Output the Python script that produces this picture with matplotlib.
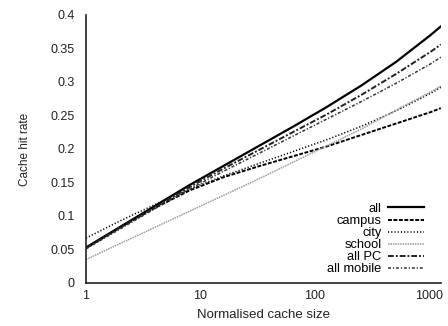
import matplotlib
matplotlib.use("Agg")
import matplotlib.pyplot as plt
from matplotlib.ticker import FixedLocator, FixedFormatter, NullLocator

plt.rcParams['font.family'] = ['Liberation Sans', 'DejaVu Sans']

cache_size = [1, 2, 4, 8, 16, 32, 64, 128, 256, 512, 1024, 1260]
all_vals   = [0.053, 0.084, 0.115, 0.146, 0.175, 0.204, 0.233, 0.263, 0.295, 0.330, 0.370, 0.383]
campus     = [0.052, 0.083, 0.112, 0.138, 0.158, 0.174, 0.189, 0.204, 0.221, 0.238, 0.255, 0.261]
city       = [0.067, 0.093, 0.117, 0.140, 0.160, 0.178, 0.196, 0.214, 0.234, 0.257, 0.283, 0.292]
school     = [0.035, 0.059, 0.083, 0.107, 0.131, 0.155, 0.180, 0.205, 0.230, 0.258, 0.285, 0.294]
all_pc     = [0.052, 0.083, 0.113, 0.143, 0.171, 0.198, 0.225, 0.252, 0.281, 0.312, 0.345, 0.356]
all_mobile = [0.051, 0.081, 0.111, 0.140, 0.167, 0.193, 0.219, 0.245, 0.271, 0.298, 0.327, 0.337]

x_ticks = [1, 10, 100, 1000]
x_tick_labels = ["1", "10", "100", "1000"]
y_ticks = [0, 0.05, 0.1, 0.15, 0.2, 0.25, 0.3, 0.35, 0.4]
y_tick_labels = ["0", "0.05", "0.1", "0.15", "0.2", "0.25", "0.3", "0.35", "0.4"]

fig = plt.figure(figsize=(4.48, 3.26), dpi=100)
ax = fig.add_axes([0.192, 0.132, 0.792, 0.822])

ax.plot(cache_size, all_vals, color='black', lw=1.6, ls='-', label='all')
ax.plot(cache_size, campus, color='black', lw=1.4, ls=(0, (2.0, 0.8)), label='campus')
ax.plot(cache_size, city, color='black', lw=1.1, ls=(0, (0.8, 1.3)), label='city')
ax.plot(cache_size, school, color='#9a9a9a', lw=1.1, ls=(0, (1.0, 0.6)), label='school')
ax.plot(cache_size, all_pc, color='#222222', lw=1.4, ls=(0, (3.0, 1.0, 1.0, 1.0)), label='all PC')
ax.plot(cache_size, all_mobile, color='#333333', lw=1.1, ls=(0, (2.0, 1.2, 0.8, 1.2)), label='all mobile')

ax.set_xscale('log')
ax.set_xlim(1, 1260)
ax.set_ylim(0, 0.4)
ax.xaxis.set_major_locator(FixedLocator(x_ticks))
ax.xaxis.set_major_formatter(FixedFormatter(x_tick_labels))
ax.xaxis.set_minor_locator(NullLocator())
ax.yaxis.set_major_locator(FixedLocator(y_ticks))
ax.yaxis.set_major_formatter(FixedFormatter(y_tick_labels))
ax.tick_params(axis='both', length=0, labelsize=9, colors='#222222')
ax.tick_params(axis='y', pad=8)
ax.tick_params(axis='x', pad=5)

for s in ['top', 'right']:
    ax.spines[s].set_visible(False)
for s in ['left', 'bottom']:
    ax.spines[s].set_linewidth(1.2)
    ax.spines[s].set_color('#222222')

ax.set_xlabel('Normalised cache size', fontsize=9.5, labelpad=5, color='#222222')
ax.set_ylabel('Cache hit rate', fontsize=8.5, labelpad=14, color='#222222')

leg = ax.legend(loc='lower right', frameon=False, markerfirst=False, fontsize=9.3,
                labelspacing=0.0, handlelength=2.8, handletextpad=0.5,
                borderaxespad=0.2, bbox_to_anchor=(0.975, 0.0))

fig.savefig('out.png', dpi=100)
